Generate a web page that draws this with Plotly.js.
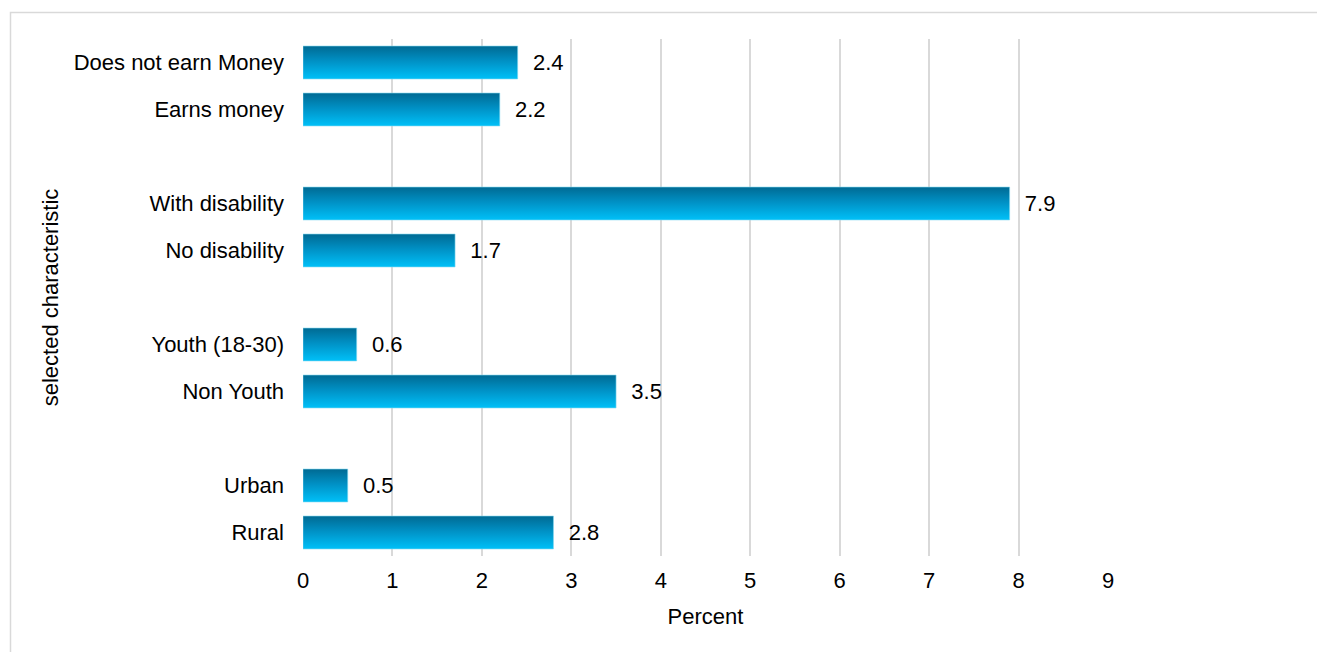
<!DOCTYPE html>
<html>
<head>
<meta charset="utf-8">
<script src="https://cdn.plot.ly/plotly-3.0.1.min.js"></script>
<style>
  html, body { margin: 0; padding: 0; background: #ffffff; }
  #chart { width: 1317px; height: 652px; }
</style>
</head>
<body>
<div id="chart"></div>
<script>
// Categories (top to bottom as shown) and values in percent
const categories = [
  "Does not earn Money", "Earns money",
  "With disability", "No disability",
  "Youth (18-30)", "Non Youth",
  "Urban", "Rural"
];
const values = [2.4, 2.2, 7.9, 1.7, 0.6, 3.5, 0.5, 2.8];
// Group structure: pairs of categories separated by an empty slot
const groups = [
  ["Does not earn Money", "Earns money"],
  ["With disability", "No disability"],
  ["Youth (18-30)", "Non Youth"],
  ["Urban", "Rural"]
];
const xTickVals = [0, 1, 2, 3, 4, 5, 6, 7, 8, 9];
const xTitle = "Percent";
const yTitle = "selected characteristic";

// Build category order (bottom to top for Plotly) with blank spacer slots
let order = [];
groups.forEach((g, i) => {
  if (i > 0) order.push(" ".repeat(i));
  g.forEach(c => order.push(c));
});
order = order.reverse();

const labels = values.map(v => "  " + v.toFixed(1));

const fontFam = "Liberation Sans, Arial, sans-serif";
const FS = 22;

const trace = {
  type: "bar",
  orientation: "h",
  y: categories,
  x: values,
  text: labels,
  textposition: "outside",
  cliponaxis: false,
  textfont: { family: fontFam, size: FS, color: "#000000" },
  marker: { color: "#0099cc", line: { width: 0 } },
  hoverinfo: "none"
};

const layout = {
  width: 1317,
  height: 652,
  margin: { l: 303, r: 209, t: 39, b: 96 },
  paper_bgcolor: "#ffffff",
  plot_bgcolor: "#ffffff",
  bargap: 0.3,
  showlegend: false,
  font: { family: fontFam, size: FS, color: "#000000" },
  xaxis: {
    range: [0, 9],
    tickvals: xTickVals,
    showgrid: true,
    gridcolor: "#d9d9d9",
    gridwidth: 2,
    zeroline: false,
    showline: false,
    ticks: "",
    ticklabelstandoff: 9,
    tickfont: { family: fontFam, size: FS, color: "#000000" },
    title: { text: xTitle, font: { family: fontFam, size: FS, color: "#000000" }, standoff: 16 },
    fixedrange: true
  },
  yaxis: {
    type: "category",
    categoryorder: "array",
    categoryarray: order,
    range: [-0.5, order.length - 0.5],
    showgrid: false,
    zeroline: false,
    showline: false,
    ticks: "",
    ticklabelstandoff: 18,
    tickfont: { family: fontFam, size: FS, color: "#000000" },
    title: { text: yTitle, font: { family: fontFam, size: FS, color: "#000000" }, standoff: 8 },
    fixedrange: true
  },
  shapes: [{
    type: "rect",
    xref: "paper", yref: "paper",
    x0: (10.5 - 303) / 805, x1: (1330 - 303) / 805,
    y0: (556 - 670) / 517, y1: (556 - 12.5) / 517,
    line: { color: "#d9d9d9", width: 1.5 },
    fillcolor: "rgba(0,0,0,0)",
    layer: "below"
  }]
};

function applyGradient(gd) {
  const svg = gd.querySelector("svg.main-svg");
  if (!svg) return;
  const ns = "http://www.w3.org/2000/svg";
  let defs = svg.querySelector("defs");
  if (!defs) { defs = document.createElementNS(ns, "defs"); svg.insertBefore(defs, svg.firstChild); }
  if (!svg.querySelector("#barGrad")) {
    const lg = document.createElementNS(ns, "linearGradient");
    lg.setAttribute("id", "barGrad");
    lg.setAttribute("x1", "0"); lg.setAttribute("y1", "0");
    lg.setAttribute("x2", "0"); lg.setAttribute("y2", "1");
    const stops = [["0", "#006a93"], ["0.45", "#0090c4"], ["1", "#00c0f8"]];
    stops.forEach(s => {
      const st = document.createElementNS(ns, "stop");
      st.setAttribute("offset", s[0]);
      st.setAttribute("stop-color", s[1]);
      lg.appendChild(st);
    });
    defs.appendChild(lg);
  }
  gd.querySelectorAll(".bars .point path").forEach(p => {
    p.style.fill = "url(#barGrad)";
    p.style.stroke = "#7fd6f0";
    p.style.strokeWidth = "0.6px";
  });
}

const gd = document.getElementById("chart");
Plotly.newPlot(gd, [trace], layout, { displayModeBar: false, staticPlot: true }).then(() => {
  applyGradient(gd);
  gd.on && gd.on("plotly_afterplot", () => applyGradient(gd));
});
</script>
</body>
</html>
